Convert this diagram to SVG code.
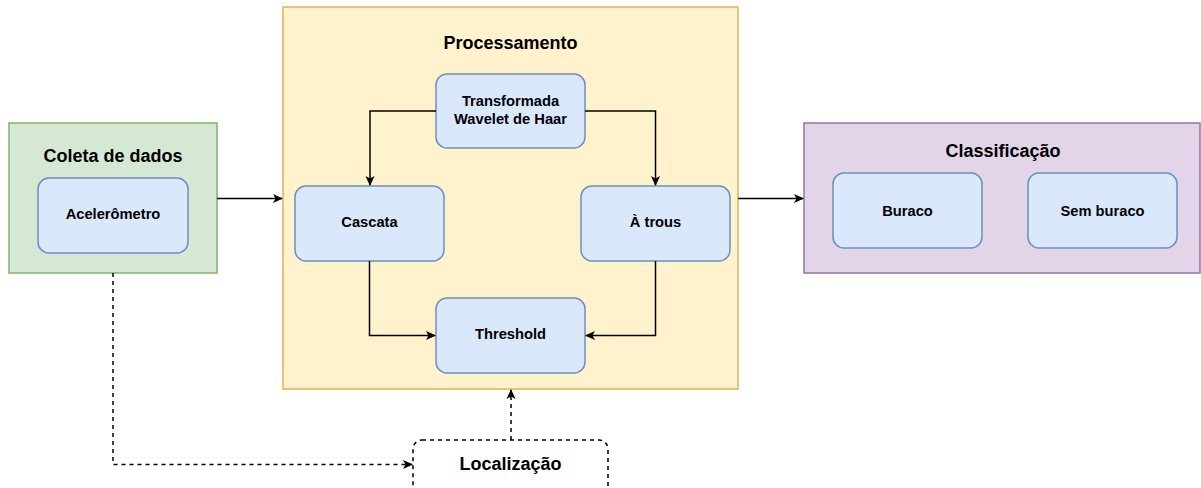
<svg xmlns="http://www.w3.org/2000/svg" width="1201" height="488" viewBox="0 0 1201 488">
  <style>
    .title { font-family: "Liberation Sans", Arial, sans-serif; font-weight: bold; font-size: 18px; fill: #000; text-anchor: middle; }
    .label { font-family: "Liberation Sans", Arial, sans-serif; font-weight: bold; font-size: 14.7px; fill: #000; text-anchor: middle; }
    .inner { fill: #dae8fc; stroke: #6c8ebf; stroke-width: 1.5; }
    .edge { fill: none; stroke: #000; stroke-width: 1.5; }
    .dash { fill: none; stroke: #000; stroke-width: 1.5; stroke-dasharray: 4 4; }
  </style>
  <defs>
    <marker id="arrow" viewBox="0 0 10 10" refX="9" refY="5" markerWidth="10" markerHeight="10" markerUnits="userSpaceOnUse" orient="auto">
      <path d="M0,0.5 L10,5 L0,9.5 L2.5,5 Z" fill="#000"/>
    </marker>
  </defs>
  <rect width="1201" height="488" fill="#fff"/>

  <g id="coleta">
    <rect x="9" y="123" width="208" height="150" fill="#d5e8d4" stroke="#82b366" stroke-width="1.5"/>
    <text class="title" x="113" y="161.5">Coleta de dados</text>
  </g>
  <g id="acelerometro">
    <rect class="inner" x="38" y="178" width="150" height="75" rx="11"/>
    <text class="label" x="113" y="219.3">Acelerômetro</text>
  </g>

  <g id="processamento">
    <rect x="283" y="7" width="455" height="382" fill="#fff2cc" stroke="#d6b656" stroke-width="1.5"/>
    <text class="title" x="510.5" y="49">Processamento</text>
  </g>
  <g id="transformada">
    <rect class="inner" x="436" y="74" width="149" height="74" rx="11"/>
    <text class="label" x="510.5" y="106">Transformada</text>
    <text class="label" x="510.5" y="123.5">Wavelet de Haar</text>
  </g>
  <g id="cascata">
    <rect class="inner" x="295" y="186" width="149" height="75" rx="11"/>
    <text class="label" x="369.5" y="227">Cascata</text>
  </g>
  <g id="atrous">
    <rect class="inner" x="581" y="186" width="149" height="75" rx="11"/>
    <text class="label" x="655.5" y="227">À trous</text>
  </g>
  <g id="threshold">
    <rect class="inner" x="436" y="298" width="149" height="75" rx="11"/>
    <text class="label" x="510.5" y="339.3">Threshold</text>
  </g>

  <g id="classificacao">
    <rect x="804" y="123" width="396" height="150" fill="#e1d5e7" stroke="#9673a6" stroke-width="1.5"/>
    <text class="title" x="1003" y="157">Classificação</text>
  </g>
  <g id="buraco">
    <rect class="inner" x="833" y="173" width="149" height="75" rx="11"/>
    <text class="label" x="907.5" y="215.5">Buraco</text>
  </g>
  <g id="sem-buraco">
    <rect class="inner" x="1028" y="173" width="149" height="75" rx="11"/>
    <text class="label" x="1102.5" y="215.5">Sem buraco</text>
  </g>

  <g id="localizacao">
    <rect x="413" y="440" width="195" height="70" rx="9" fill="#fff" stroke="#000" stroke-width="1.5" stroke-dasharray="4 4"/>
    <text class="title" x="510.5" y="469.5">Localização</text>
  </g>

  <g id="connectors">
    <path class="edge" d="M217,198.5 H282" marker-end="url(#arrow)"/>
    <path class="edge" d="M738,198.5 H803" marker-end="url(#arrow)"/>
    <path class="edge" d="M436,111 H370 V185" marker-end="url(#arrow)"/>
    <path class="edge" d="M585,111 H655.5 V185" marker-end="url(#arrow)"/>
    <path class="edge" d="M369.5,261 V335.5 H435" marker-end="url(#arrow)"/>
    <path class="edge" d="M655.5,261 V335.5 H586" marker-end="url(#arrow)"/>
    <path class="dash" d="M113,273 V464.5 H412" marker-end="url(#arrow)"/>
    <path class="dash" d="M511,440 V390" marker-end="url(#arrow)"/>
  </g>
</svg>
